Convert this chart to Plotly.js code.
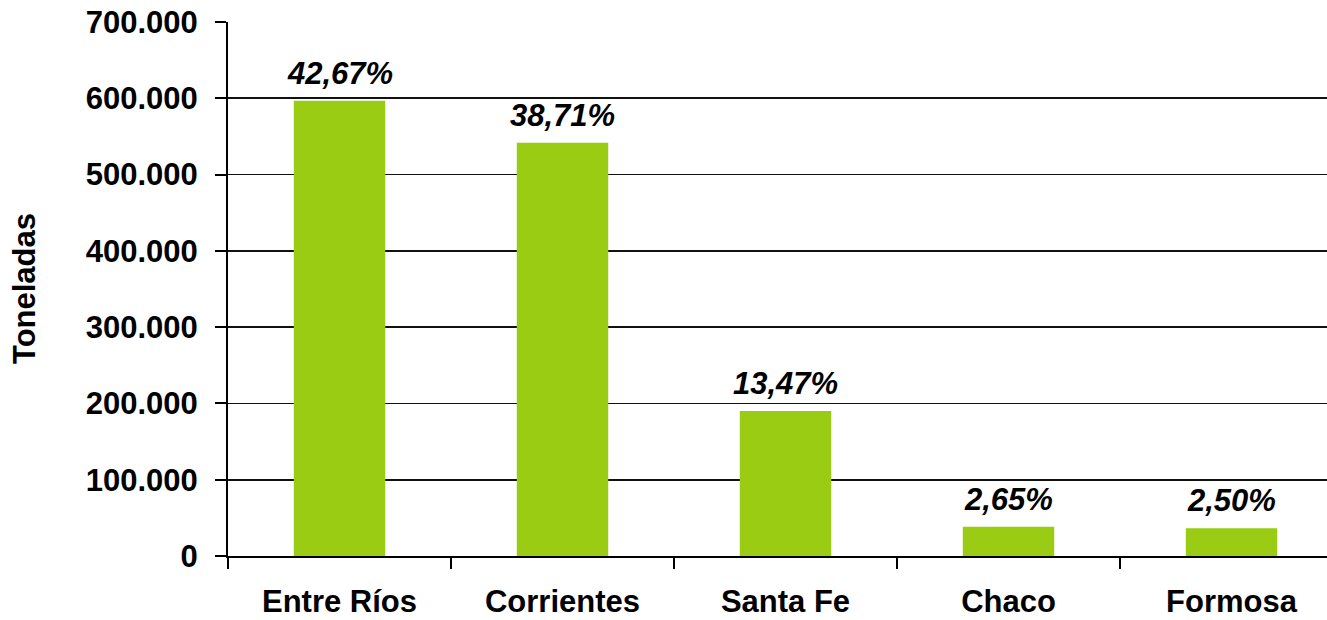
<!DOCTYPE html>
<html>
<head>
<meta charset="utf-8">
<script src="https://cdn.plot.ly/plotly-3.0.1.min.js"></script>
<style>
html,body{margin:0;padding:0;overflow:hidden;background:#fff;width:1327px;height:620px;}
#chart{width:1345px;height:620px;}
</style>
</head>
<body>
<div id="chart"></div>
<script>
const provincias = ["Entre Ríos", "Corrientes", "Santa Fe", "Chaco", "Formosa"];
const toneladas = [596800, 541700, 190000, 38500, 36500];
const porcentajes = ["42,67%", "38,71%", "13,47%", "2,65%", "2,50%"];
const yTicks = [0, 100000, 200000, 300000, 400000, 500000, 600000, 700000];

const FONT = "Liberation Sans, Arial, sans-serif";

const trace = {
  type: "bar",
  x: provincias,
  y: toneladas,
  marker: {color: "#99CC12", line: {width: 0}},
  hoverinfo: "skip"
};

const annotations = provincias.map((p, i) => ({
  x: p, y: toneladas[i], xref: "x", yref: "y",
  text: "<b><i>" + porcentajes[i] + "</i></b>",
  showarrow: false, xanchor: "center", yanchor: "bottom", yshift: 8,
  font: {family: FONT, size: 31, color: "#000"}
}));
annotations.push({
  xref: "paper", yref: "paper", x: (24 - 228) / 1115, y: 0.5,
  text: "<b>Toneladas</b>", textangle: -90, showarrow: false,
  xanchor: "center", yanchor: "middle",
  font: {family: FONT, size: 31, color: "#000"}
});

const layout = {
  width: 1345, height: 620,
  margin: {l: 228, r: 2, t: 22, b: 64, pad: 0},
  paper_bgcolor: "#fff", plot_bgcolor: "#fff",
  separators: ",.",
  showlegend: false,
  bargap: 0.59,
  font: {family: FONT, size: 31, color: "#000"},
  xaxis: {
    type: "category",
    range: [-0.5, 4.5],
    showline: true, linecolor: "#000", linewidth: 2,
    ticks: "outside", tickson: "boundaries", ticklen: 11, tickwidth: 2, tickcolor: "#000",
    tickfont: {family: FONT, size: 31, color: "#000", weight: "bold"},
    ticklabelstandoff: 17,
    showgrid: false, automargin: false, fixedrange: true
  },
  yaxis: {
    range: [0, 700000],
    tickvals: yTicks,
    tickformat: ",d",
    showline: true, linecolor: "#000", linewidth: 2,
    ticks: "outside", ticklen: 11, tickwidth: 2, tickcolor: "#000",
    tickfont: {family: FONT, size: 31, color: "#000", weight: "bold"},
    ticklabelstandoff: 11,
    showgrid: true, gridcolor: "#111", gridwidth: 1.8,
    zeroline: false, automargin: false, fixedrange: true
  },
  annotations: annotations
};

Plotly.newPlot("chart", [trace], layout, {displayModeBar: false, staticPlot: true});
</script>
</body>
</html>
